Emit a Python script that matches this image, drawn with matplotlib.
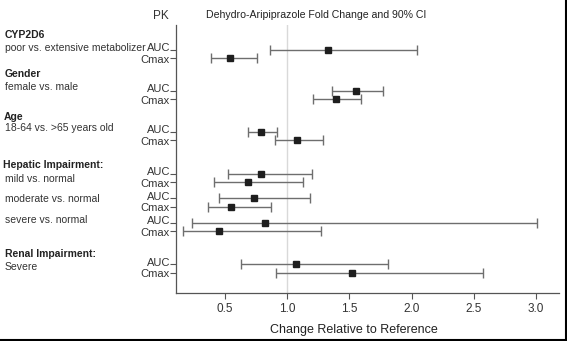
import numpy as np
import matplotlib
matplotlib.use("Agg")
import matplotlib.pyplot as plt
import matplotlib.transforms as mtransforms
from matplotlib.lines import Line2D

plt.rcParams['font.family'] = ['Liberation Sans', 'DejaVu Sans']

# fold change and 90% CI, one entry per row (AUC, Cmax pairs)
pk_labels = ["AUC", "Cmax"] * 7
estimate = [1.33, 0.54, 1.55, 1.39, 0.79, 1.08, 0.79, 0.68, 0.73, 0.55, 0.82, 0.45, 1.07, 1.52]
ci_low = [0.86, 0.39, 1.36, 1.21, 0.68, 0.90, 0.52, 0.41, 0.45, 0.36, 0.23, 0.16, 0.63, 0.91]
ci_high = [2.04, 0.76, 1.77, 1.59, 0.92, 1.29, 1.20, 1.13, 1.18, 0.87, 3.01, 1.27, 1.81, 2.57]

group_titles = ["CYP2D6", "Gender", "Age", "Hepatic Impairment:", None, None, "Renal Impairment:"]
group_subtitles = ["poor vs. extensive metabolizer", "female vs. male", "18-64 vs. >65 years old",
                   "mild vs. normal", "moderate vs. normal", "severe vs. normal", "Severe"]
x_ticks = [0.5, 1.0, 1.5, 2.0, 2.5, 3.0]

# layout (vertical positions in pixel-like units, top = 25, bottom = 293)
auc_pos = [50, 91, 132, 174, 198.3, 223, 264.3]
pair_gap = 8.3
ypos = []
for p in auc_pos:
    ypos += [p, p + pair_gap]
title_y = [35, 74, 117, 165.5, None, None, 254]
title_x = [5, 5, 4, 3, None, None, 5]
sub_y = [48, 87, 128, 179, 199, 220, 266.5]

W, H = 567, 341
fig = plt.figure(figsize=(W / 100, H / 100), dpi=100)
ax = fig.add_axes([176 / W, 1 - 293.3 / H, (559 - 176) / W, (293.3 - 25) / H])

ax.axvline(1.0, color="#d9d9d9", lw=1, zorder=0)

est = np.array(estimate)
err = np.vstack([est - np.array(ci_low), np.array(ci_high) - est])
ax.errorbar(est, ypos, xerr=err, fmt="s", color="#1e1e1e", ms=4.8,
            ecolor="#6e6e6e", elinewidth=1, capsize=3.5, capthick=1)

ax.set_xlim(0.105, 3.185)
ax.set_ylim(293.3, 25)
ax.set_xticks(x_ticks)
ax.set_xticklabels([f"{v:.1f}" for v in x_ticks], fontsize=8.5, color="#333333")
ax.set_yticks(ypos)
ax.set_yticklabels([])
ax.tick_params(axis="y", length=4, width=0.8, color="#555555")
ax.tick_params(axis="x", length=4, width=0.8, color="#555555", pad=3)
for s in ["top", "right"]:
    ax.spines[s].set_visible(False)
for s in ["left", "bottom"]:
    ax.spines[s].set_color("#555555")
    ax.spines[s].set_linewidth(0.9)

# AUC / Cmax labels squeezed next to their ticks
lab_trans = ax.get_yaxis_transform() + mtransforms.ScaledTranslation(-6 / 100, 0, fig.dpi_scale_trans)
for i, (lab, y) in enumerate(zip(pk_labels, ypos)):
    shift = -1.6 if i % 2 == 0 else 1.6
    ax.text(0, y + shift, lab, transform=lab_trans, ha="right", va="center",
            fontsize=8, color="#333333", linespacing=1)

ax.set_xlabel("Change Relative to Reference", fontsize=9, color="#222222", labelpad=0)
ax.xaxis.set_label_coords((354 - 176) / (559 - 176), -(324 - 293.3) / (293.3 - 25))

# header text
fig.text(161 / W, 1 - 16 / H, "PK", ha="center", va="center", fontsize=8.5, color="#333333")
fig.text(316 / W, 1 - 15 / H, "Dehydro-Aripiprazole Fold Change and 90% CI",
         ha="center", va="center", fontsize=7.6, color="#222222")

# group labels on the left
for t, tx, ty in zip(group_titles, title_x, title_y):
    if t is not None:
        fig.text(tx / W, 1 - ty / H, t, ha="left", va="center", fontsize=7.5,
                 fontweight="bold", color="#222222")
for s, sy in zip(group_subtitles, sub_y):
    fig.text(5 / W, 1 - sy / H, s, ha="left", va="center", fontsize=7.5, color="#333333")

# black frame edge at right and bottom
fig.add_artist(Line2D([1 - 1.5 / W, 1 - 1.5 / W], [1.5 / H, 1], color="black", lw=1.5,
                      transform=fig.transFigure))
fig.add_artist(Line2D([0, 1 - 1.5 / W], [1.5 / H, 1.5 / H], color="black", lw=1.5,
                      transform=fig.transFigure))

fig.savefig("out.png", dpi=100)
